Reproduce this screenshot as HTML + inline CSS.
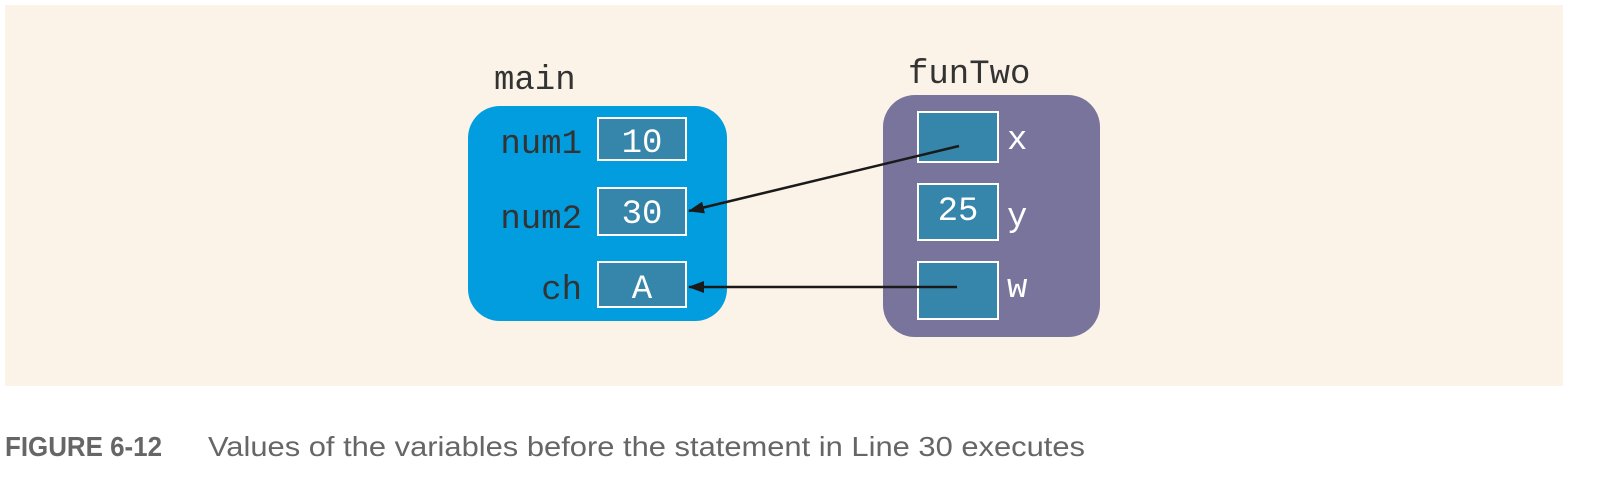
<!DOCTYPE html>
<html><head><style>
body{margin:0;width:1616px;height:476px;background:#fff;overflow:hidden}
</style></head><body>
<svg width="1616" height="476" xmlns="http://www.w3.org/2000/svg">
<defs><marker id="a" markerWidth="16" markerHeight="12" refX="15" refY="6" orient="auto" markerUnits="userSpaceOnUse"><path d="M0,0 L16,6 L0,12 Z" fill="#1a1a1a"/></marker></defs>
<rect x="5" y="5" width="1558" height="381" fill="#fcf3e8"/>
<g font-family="Liberation Mono, monospace" font-size="34" fill="#333">
<text x="494" y="89">main</text>
<text x="908" y="83">funTwo</text>
</g>
<rect x="468" y="106" width="259" height="215" rx="32" fill="#019ddf"/>
<rect x="883" y="95" width="217" height="242" rx="32" fill="#79749c"/>
<g fill="#3685ab" stroke="#fff" stroke-width="2">
<rect x="598" y="118" width="88" height="42"/>
<rect x="598" y="188" width="88" height="47"/>
<rect x="598" y="262" width="88" height="45"/>
<rect x="918" y="112" width="80" height="50"/>
<rect x="918" y="184" width="80" height="56"/>
<rect x="918" y="262" width="80" height="57"/>
</g>
<g font-family="Liberation Mono, monospace" font-size="34" fill="#333" text-anchor="end">
<text x="582" y="153">num1</text>
<text x="582" y="228">num2</text>
<text x="582" y="299">ch</text>
</g>
<g font-family="Liberation Mono, monospace" font-size="34" fill="#fff" text-anchor="middle">
<text x="642" y="152">10</text>
<text x="642" y="223">30</text>
<text x="642" y="298">A</text>
<text x="958" y="220">25</text>
</g>
<g font-family="Liberation Mono, monospace" font-size="34" fill="#fff">
<text x="1007" y="149">x</text>
<text x="1007" y="226">y</text>
<text x="1007" y="297">w</text>
</g>
<g stroke="#1a1a1a" stroke-width="2.5">
<line x1="959" y1="146" x2="689" y2="211" marker-end="url(#a)"/>
<line x1="957" y1="287" x2="689" y2="287" marker-end="url(#a)"/>
</g>
<g font-family="Liberation Sans, sans-serif" font-size="28" fill="#666">
<text x="5" y="456" font-weight="bold" textLength="157" lengthAdjust="spacingAndGlyphs">FIGURE 6-12</text>
<text x="208" y="456" textLength="877" lengthAdjust="spacingAndGlyphs">Values of the variables before the statement in Line 30 executes</text>
</g>
</svg>
</body></html>
